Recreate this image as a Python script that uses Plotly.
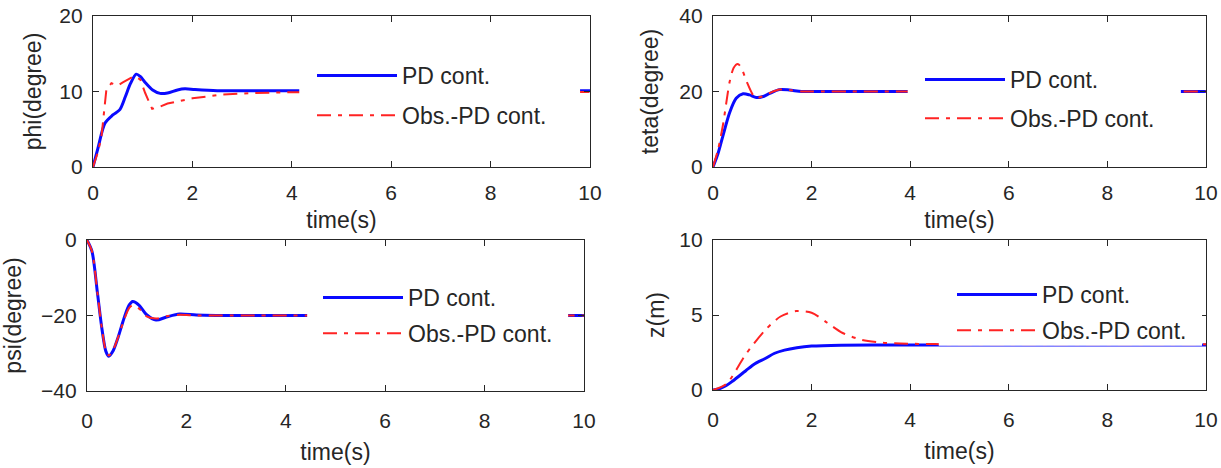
import plotly.graph_objects as go

# ---------------- data ----------------
series_names = ["PD cont.", "Obs.-PD cont."]
x_ticks = [0, 2, 4, 6, 8, 10]

# phi
t_phi_pd = [0, 0.1, 0.24, 0.4, 0.54, 0.65, 0.75, 0.87, 0.95, 1.05, 1.2, 1.35, 1.5, 1.7, 1.85, 2.05, 2.5, 3, 4, 5, 10]
phi_pd = [0, 2.5, 5.8, 6.9, 7.6, 9.3, 11.0, 12.3, 12.0, 11.2, 10.2, 9.75, 9.8, 10.2, 10.35, 10.25, 10.1, 10.1, 10.1, 10.1, 10.1]
t_phi_obs = [0, 0.1, 0.17, 0.22, 0.27, 0.37, 0.5, 0.6, 0.82, 0.95, 1.05, 1.19, 1.35, 1.5, 2.0, 2.6, 3.2, 4, 10]
phi_obs = [0, 2.0, 4.0, 7.0, 10.3, 11.1, 10.8, 11.2, 12.0, 11.6, 9.8, 7.7, 8.0, 8.4, 9.1, 9.6, 9.8, 9.9, 9.95]

# teta
t_teta_pd = [0, 0.1, 0.2, 0.34, 0.47, 0.61, 0.74, 0.88, 1.0, 1.15, 1.35, 1.55, 1.8, 2.2, 3, 10]
teta_pd = [0, 3.5, 8.2, 14.5, 18.2, 19.4, 19.1, 18.4, 18.6, 19.5, 20.5, 20.4, 20.0, 20.0, 20.0, 20.0]
t_teta_obs = [0, 0.1, 0.2, 0.34, 0.42, 0.5, 0.57, 0.68, 0.81, 0.88, 1.0, 1.15, 1.35, 1.55, 1.8, 2.2, 10]
teta_obs = [0, 4.5, 11.0, 22.7, 26.3, 27.3, 26.4, 22.7, 19.1, 18.3, 18.7, 19.6, 20.5, 20.4, 20.0, 20.0, 20.0]

# psi
t_psi = [0, 0.1, 0.21, 0.3, 0.38, 0.44, 0.52, 0.62, 0.75, 0.85, 0.92, 1.05, 1.2, 1.39, 1.6, 1.86, 2.2, 2.6, 10]
psi_pd = [0, -3, -14, -23.5, -29.5, -30.8, -29.5, -26, -20.5, -17.2, -16.3, -17.3, -19.8, -21.2, -20.4, -19.6, -19.9, -20, -20]
psi_obs = [0, -3, -14, -23.5, -29.4, -30.6, -29.3, -26, -21, -18, -17.3, -18.2, -20.2, -20.8, -20.2, -19.8, -20, -20, -20]

# z
t_z_pd = [0, 0.1, 0.27, 0.4, 0.67, 0.85, 1.06, 1.25, 1.45, 1.7, 2.0, 2.6, 3.5, 10]
z_pd = [0, 0.05, 0.3, 0.6, 1.3, 1.75, 2.1, 2.45, 2.66, 2.82, 2.93, 2.99, 3.0, 3.0]
t_z_obs = [0, 0.27, 0.67, 1.06, 1.37, 1.69, 2.0, 2.31, 2.63, 3.02, 3.41, 3.8, 4.5, 10]
z_obs = [0, 0.4, 2.4, 4.0, 4.9, 5.26, 5.15, 4.5, 3.8, 3.34, 3.16, 3.1, 3.06, 3.05]

y_titles = ["phi(degree)", "teta(degree)", "psi(degree)", "z(m)"]
y_ranges = [[0, 20], [0, 40], [-40, 0], [0, 10]]
y_ticks = [[0, 10, 20], [0, 20, 40], [-40, -20, 0], [0, 5, 10]]

# ---------------- layout geometry ----------------
W, H = 1221, 468
def px(x):
    return x / W
def py(y):
    return 1 - y / H

# (left, right, top, bottom) in screen pixels
boxes = [(93, 590, 16, 167), (713, 1206, 16, 167), (87, 584, 240, 391), (713, 1206, 240, 390)]
# occluding legend background boxes (data coords): x0, x1, y0, y1
occl = [(4.15, 9.8, 5.0, 15.0), (3.95, 9.49, 9.0, 31.0), (4.43, 9.68, -29.0, -9.0), (4.58, 9.92, 2.95, 8.5)]
# legend text start x px, first row centre y px, row gap
leg_pos = [(402, 74, 7), (1010, 78, 6), (408, 296, 3), (1042, 293, 3)]
y_title_standoff = [11, 14, 20, 8]

BLUE = "rgb(10,10,255)"
RED = "rgb(255,35,35)"
TXT = "#262626"
FONT = "Liberation Sans, Arial, sans-serif"

data_sets = [
    (t_phi_pd, phi_pd, t_phi_obs, phi_obs, "linear"),
    (t_teta_pd, teta_pd, t_teta_obs, teta_obs, "spline"),
    (t_psi, psi_pd, t_psi, psi_obs, "spline"),
    (t_z_pd, z_pd, t_z_obs, z_obs, "spline"),
]

fig = go.Figure()
shapes = []
layout = {}
for i, (tp, yp, to, yo, obs_shape) in enumerate(data_sets):
    k = "" if i == 0 else str(i + 1)
    leg = "legend" + k
    fig.add_trace(go.Scatter(x=tp, y=yp, mode="lines", name=series_names[0],
                             xaxis="x" + k, yaxis="y" + k, legend=leg, legendgroup="a%d" % i,
                             line=dict(color=BLUE, width=3, shape="spline", smoothing=0.8)))
    fig.add_trace(go.Scatter(x=to, y=yo, mode="lines", name=series_names[1],
                             xaxis="x" + k, yaxis="y" + k, legend=leg, legendgroup="b%d" % i,
                             line=dict(color=RED, width=2, dash="14px,7px,4px,7px",
                                       shape=obs_shape, smoothing=0.8)))
    l, r, t, b = boxes[i]
    bottom_row = i >= 2
    layout["xaxis" + k] = dict(
        domain=[px(l), px(r)], anchor="y" + k, range=[0, 10], tickvals=x_ticks,
        ticks="inside", ticklen=6, tickcolor=TXT, showline=True, linecolor=TXT, linewidth=1.2,
        mirror="ticks", showgrid=False, zeroline=False, automargin=False,
        ticklabelstandoff=11 if bottom_row else 7, ticklabeloverflow="allow",
        tickfont=dict(family=FONT, size=21, color=TXT),
        title=dict(text="time(s)", font=dict(family=FONT, size=23, color=TXT),
                   standoff=12 if bottom_row else 8))
    layout["yaxis" + k] = dict(
        domain=[py(b), py(t)], anchor="x" + k, range=y_ranges[i], tickvals=y_ticks[i],
        ticks="inside", ticklen=6, tickcolor=TXT, showline=True, linecolor=TXT, linewidth=1.2,
        mirror="ticks", showgrid=False, zeroline=False, automargin=False,
        ticklabelstandoff=5, ticklabeloverflow="allow",
        tickfont=dict(family=FONT, size=21, color=TXT),
        title=dict(text=y_titles[i], font=dict(family=FONT, size=23, color=TXT),
                   standoff=y_title_standoff[i]))
    x0, x1, y0, y1 = occl[i]
    shapes.append(dict(type="rect", xref="x" + k, yref="y" + k, x0=x0, x1=x1, y0=y0, y1=y1,
                       fillcolor="white", line=dict(width=0), layer="above"))
    lx, ly, gap = leg_pos[i]
    layout[leg] = dict(x=px(lx - 90), y=py(ly - 20), xanchor="left", yanchor="top",
                       bgcolor="rgba(0,0,0,0)", borderwidth=0, itemwidth=80,
                       traceorder="grouped", tracegroupgap=gap,
                       font=dict(family=FONT, size=23, color=TXT))

fig.update_layout(width=W, height=H, margin=dict(l=0, r=0, t=0, b=0),
                  paper_bgcolor="white", plot_bgcolor="white", shapes=shapes, **layout)
fig.write_html("out.html", config={"displayModeBar": False},
               post_script="document.body.style.margin='0px';document.body.style.overflow='hidden';")
